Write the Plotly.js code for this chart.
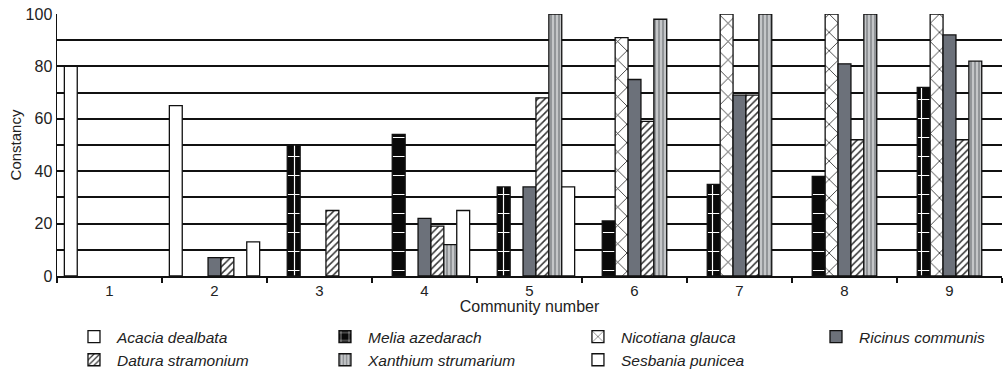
<!DOCTYPE html>
<html><head><meta charset="utf-8">
<script src="https://cdn.plot.ly/plotly-3.0.1.min.js"></script>
<style>html,body{margin:0;padding:0;background:#fff}</style>
</head><body>
<div id="chart" style="width:1006px;height:370px"></div>
<script>
const communities = ['1','2','3','4','5','6','7','8','9'];
const acacia    = [80, 65, null, null, null, null, null, null, null];
const melia     = [null, null, 50, 54, 34, 21, 35, 38, 72];
const nicotiana = [null, null, null, null, null, 91, 100, 100, 100];
const ricinus   = [null, 7, null, 22, 34, 75, 69, 81, 92];
const datura    = [null, 7, 25, 19, 68, 59, 69, 52, 52];
const xanthium  = [null, null, null, 12, 100, 98, 100, 100, 82];
const sesbania  = [null, 13, null, 25, 34, null, null, null, null];
const yTickVals = [0,10,20,30,40,50,60,70,80,90,100];
const yTickText = ['0','','20','','40','','60','','80','','100'];

const line = {color:'#111', width:1.3};
function bar(name, y, marker, legend){
  return {type:'bar', name:name, x:communities, y:y, marker:Object.assign({line:line}, marker), legend:legend};
}
const data = [
  bar('Acacia dealbata', acacia, {color:'#ffffff'}, 'legend'),
  bar('Melia azedarach', melia, {color:'#0a0a0a', pattern:{shape:'+', fgcolor:'#ffffff', bgcolor:'#0a0a0a', size:19, solidity:0.12}}, 'legend2'),
  bar('Nicotiana glauca', nicotiana, {color:'#ffffff', pattern:{shape:'x', fgcolor:'#222', bgcolor:'#ffffff', size:13, solidity:0.12}}, 'legend3'),
  bar('Ricinus communis', ricinus, {color:'#6c717a'}, 'legend4'),
  bar('Datura stramonium', datura, {color:'#ffffff', pattern:{shape:'/', fgcolor:'#333', bgcolor:'#ffffff', size:5, solidity:0.3}}, 'legend'),
  bar('Xanthium strumarium', xanthium, {color:'#b4b6b8', pattern:{shape:'|', fgcolor:'#7d8084', bgcolor:'#c4c6c8', size:4, solidity:0.35}}, 'legend2'),
  bar('Sesbania punicea', sesbania, {color:'#ffffff'}, 'legend3')
];
const legFont = {family:'Liberation Sans, Arial, sans-serif', size:15.5, color:'#222', style:'italic'};
function leg(x){
  return {x:x, y:-0.168, xanchor:'left', yanchor:'top', orientation:'v', font:legFont,
          bgcolor:'rgba(0,0,0,0)', borderwidth:0, traceorder:'normal', itemwidth:36};
}
const layout = {
  width:1006, height:370,
  margin:{l:57, r:4, t:14, b:94, autoexpand:false},
  paper_bgcolor:'#ffffff', plot_bgcolor:'#ffffff',
  font:{family:'Liberation Sans, Arial, sans-serif', color:'#222'},
  barmode:'group', bargap:0.14, bargroupgap:0,
  showlegend:true,
  legend: leg(0.0148),
  legend2: leg(0.2804),
  legend3: leg(0.5481),
  legend4: leg(0.80),
  xaxis:{
    type:'category', showline:true, linecolor:'#111', linewidth:1.5,
    ticks:'outside', tickson:'boundaries', ticklen:5, tickcolor:'#111', tickwidth:1.3,
    tickfont:{size:15, color:'#222'},
    title:{text:'Community number', font:{size:16, color:'#222'}, standoff:1},
    showgrid:false, zeroline:false
  },
  yaxis:{
    range:[0,100], tickvals:yTickVals, ticktext:yTickText,
    showline:true, linecolor:'#111', linewidth:1.5,
    ticks:'',
    tickfont:{size:16, color:'#222'},
    showgrid:true, gridcolor:'#111111', gridwidth:2, zeroline:false,
    title:{text:'Constancy', font:{size:15, color:'#222'}, standoff:0}
  }
};
Plotly.newPlot('chart', data, layout, {displayModeBar:false, staticPlot:true});
</script>
</body></html>
